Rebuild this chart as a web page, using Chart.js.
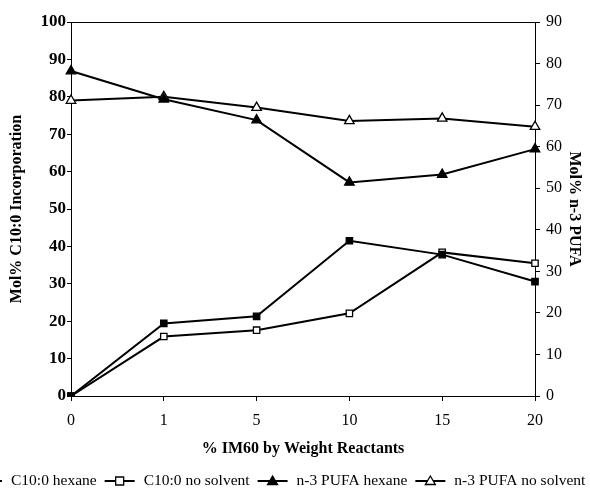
<!DOCTYPE html>
<html>
<head>
<meta charset="utf-8">
<script src="https://cdn.jsdelivr.net/npm/chart.js@4/dist/chart.umd.min.js"></script>
<style>
  html, body { margin: 0; padding: 0; background: #fff; }
  #wrap { width: 590px; height: 502px; position: relative; }
</style>
</head>
<body>
<div id="wrap"><canvas id="chart" width="590" height="502"></canvas></div>
<script>
// 데이터
const categories = ['0', '1', '5', '10', '15', '20'];
const c10Hexane = [0, 19.4, 21.3, 41.5, 37.8, 30.6];
const c10NoSolvent = [0, 15.9, 17.6, 22.1, 38.4, 35.5];
const pufaHexane = [78.2, 71.4, 66.4, 51.4, 53.3, 59.4];     // 오른쪽 축
const pufaNoSolvent = [71.1, 72.0, 69.4, 66.2, 66.8, 64.8];  // 오른쪽 축
const seriesNames = ['C10:0 hexane', 'C10:0 no solvent', 'n-3 PUFA hexane', 'n-3 PUFA no solvent'];

const SERIF = "'Liberation Serif', 'Times New Roman', serif";

// 위쪽 테두리 선
const frameLine = {
    id: 'frameLine',
    afterDraw(chart) {
        const { ctx, chartArea } = chart;
        ctx.save();
        ctx.strokeStyle = '#000';
        ctx.lineWidth = 1;
        ctx.beginPath();
        ctx.moveTo(chartArea.left, chartArea.top + 0.5);
        ctx.lineTo(chartArea.right, chartArea.top + 0.5);
        ctx.stroke();
        ctx.restore();
    }
};

// 아래쪽 범례 (원본처럼 한 줄, 양쪽이 잘림)
const bottomLegend = {
    id: 'bottomLegend',
    afterDraw(chart) {
        const ctx = chart.ctx;
        const y = 481;
        let x = -28;
        ctx.save();
        ctx.font = '15.5px ' + SERIF;
        ctx.textBaseline = 'middle';
        chart.data.datasets.forEach(ds => {
            ctx.strokeStyle = '#000';
            ctx.lineWidth = 2;
            ctx.beginPath();
            ctx.moveTo(x, y);
            ctx.lineTo(x + 30, y);
            ctx.stroke();
            const cx = x + 15;
            ctx.lineWidth = 1.3;
            ctx.fillStyle = ds.pointBackgroundColor;
            ctx.beginPath();
            if (ds.pointStyle === 'rect') {
                ctx.rect(cx - 4, y - 4, 8, 8);
            } else {
                ctx.moveTo(cx, y - 5);
                ctx.lineTo(cx + 5, y + 3.5);
                ctx.lineTo(cx - 5, y + 3.5);
                ctx.closePath();
            }
            ctx.fill();
            ctx.stroke();
            x += 39;
            ctx.fillStyle = '#000';
            ctx.fillText(ds.label, x, y);
            x += ctx.measureText(ds.label).width + 8;
        });
        ctx.restore();
    }
};

function makeSet(label, data, filled, style, axis) {
    return {
        label: label,
        data: data,
        yAxisID: axis,
        borderColor: '#000',
        borderWidth: 2,
        pointStyle: style,
        pointRadius: style === 'rect' ? 4.5 : 5.5,
        pointBorderWidth: 1.3,
        pointBorderColor: '#000',
        pointBackgroundColor: filled ? '#000' : '#fff',
        tension: 0,
        fill: false
    };
}

const ctx = document.getElementById('chart').getContext('2d');
new Chart(ctx, {
    type: 'line',
    data: {
        labels: categories,
        datasets: [
            makeSet(seriesNames[0], c10Hexane, true, 'rect', 'y'),
            makeSet(seriesNames[1], c10NoSolvent, false, 'rect', 'y'),
            makeSet(seriesNames[2], pufaHexane, true, 'triangle', 'y1'),
            makeSet(seriesNames[3], pufaNoSolvent, false, 'triangle', 'y1')
        ]
    },
    options: {
        responsive: false,
        animation: false,
        layout: { padding: { top: 22, bottom: 44, left: 0, right: 0 } },
        plugins: {
            legend: { display: false },
            tooltip: { enabled: false }
        },
        scales: {
            x: {
                type: 'category',
                offset: false,
                grid: { drawOnChartArea: false, drawTicks: true, tickLength: 5, color: '#000' },
                border: { display: true, color: '#000', width: 1 },
                ticks: { color: '#000', padding: 10, font: { family: SERIF, size: 16 } },
                title: {
                    display: true,
                    text: '% IM60 by Weight Reactants',
                    color: '#000',
                    padding: { top: 0, bottom: 0 },
                    font: { family: SERIF, size: 16, weight: 'bold' }
                },
                afterFit(scale) { scale.height = 62; }
            },
            y: {
                position: 'left',
                min: 0,
                max: 100,
                grid: { drawOnChartArea: false, drawTicks: true, tickLength: 4, color: '#000' },
                border: { display: true, color: '#000', width: 1 },
                ticks: { stepSize: 10, color: '#000', padding: 1, font: { family: SERIF, size: 17, weight: 'bold' } },
                title: {
                    display: true,
                    text: 'Mol% C10:0 Incorporation',
                    color: '#000',
                    padding: { top: 7, bottom: 0 },
                    font: { family: SERIF, size: 16, weight: 'bold' }
                },
                afterFit(scale) { scale.width = 71; }
            },
            y1: {
                position: 'right',
                min: 0,
                max: 90,
                grid: { drawOnChartArea: false, drawTicks: true, tickLength: 5, color: '#000' },
                border: { display: true, color: '#000', width: 1 },
                ticks: { stepSize: 10, color: '#000', padding: 6, font: { family: SERIF, size: 16 } },
                title: {
                    display: true,
                    text: 'Mol% n-3 PUFA',
                    color: '#000',
                    padding: { top: 6, bottom: 0 },
                    font: { family: SERIF, size: 16, weight: 'bold' }
                },
                afterFit(scale) { scale.width = 55; }
            }
        }
    },
    plugins: [frameLine, bottomLegend]
});
</script>
</body>
</html>
